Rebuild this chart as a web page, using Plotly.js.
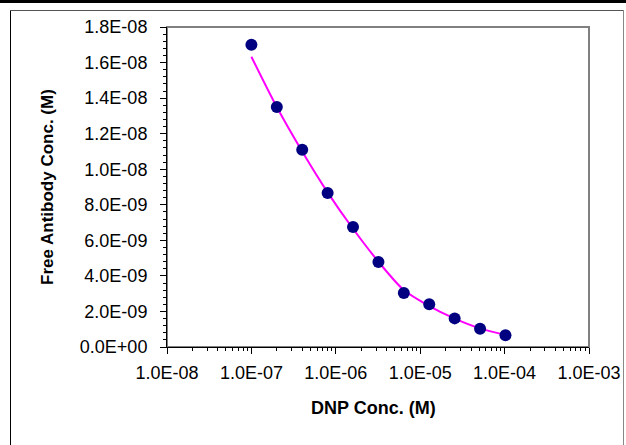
<!DOCTYPE html>
<html>
<head>
<meta charset="utf-8">
<script src="https://cdn.plot.ly/plotly-3.0.1.min.js"></script>
<style>
  html, body { margin: 0; padding: 0; background: #fff; }
  #chart { width: 626px; height: 445px; }
</style>
</head>
<body>
<div id="chart"></div>
<script>
// Data
const dnpConc = [1e-7, 2e-7, 4e-7, 8e-7, 1.6e-6, 3.2e-6, 6.4e-6, 1.28e-5, 2.56e-5, 5.12e-5, 1.024e-4];
const freeAb  = [1.70e-8, 1.35e-8, 1.11e-8, 8.66e-9, 6.75e-9, 4.78e-9, 3.04e-9, 2.40e-9, 1.61e-9, 1.03e-9, 6.6e-10];
const fitAb   = [1.633e-8, 1.35e-8, 1.10e-8, 8.70e-9, 6.65e-9, 4.80e-9, 3.20e-9, 2.30e-9, 1.60e-9, 1.05e-9, 6.8e-10];

const xTickVals = [1e-8, 1e-7, 1e-6, 1e-5, 1e-4, 1e-3];
const xTickText = ['1.0E-08', '1.0E-07', '1.0E-06', '1.0E-05', '1.0E-04', '1.0E-03'];
const yTickVals = [0, 2e-9, 4e-9, 6e-9, 8e-9, 1e-8, 1.2e-8, 1.4e-8, 1.6e-8, 1.8e-8];
const yTickText = ['0.0E+00', '2.0E-09', '4.0E-09', '6.0E-09', '8.0E-09', '1.0E-08', '1.2E-08', '1.4E-08', '1.6E-08', '1.8E-08'];
const xTitle = 'DNP Conc. (M)';
const yTitle = 'Free Antibody Conc. (M)';

const FONT = '"Liberation Sans", Arial, sans-serif';

const traces = [
  {
    x: dnpConc, y: fitAb, type: 'scatter', mode: 'lines',
    line: { color: '#FF00FF', width: 2, shape: 'spline', smoothing: 0.8 },
    hoverinfo: 'skip', showlegend: false
  },
  {
    x: dnpConc, y: freeAb, type: 'scatter', mode: 'markers',
    marker: { color: '#000080', size: 12, symbol: 'circle', line: { width: 0 } },
    showlegend: false
  }
];

// plot area in pixels: x 167..589, y 27..347
const L = 167, R = 37, T = 27, B = 98, W = 626 - L - R, H = 445 - T - B;
const px = v => (v - L) / W;
const py = v => (445 - B - v) / H;

const layout = {
  width: 626, height: 445,
  margin: { l: L, r: R, t: T, b: B, pad: 0 },
  paper_bgcolor: '#ffffff', plot_bgcolor: '#ffffff',
  font: { family: FONT, color: '#000', size: 18 },
  xaxis: {
    type: 'log', range: [-8, -3],
    tickmode: 'array', tickvals: xTickVals, ticktext: xTickText,
    ticks: 'outside', ticklen: 6, tickwidth: 1, tickcolor: '#000',
    ticklabelstandoff: 3,
    minor: { ticks: 'outside', ticklen: 3, tickcolor: '#000', dtick: 'D1', showgrid: false },
    showline: true, linecolor: '#000', linewidth: 1,
    showgrid: false, zeroline: false,
    tickfont: { family: FONT, size: 18, color: '#000' },
    automargin: false
  },
  yaxis: {
    range: [0, 1.8e-8],
    tickmode: 'array', tickvals: yTickVals, ticktext: yTickText,
    ticks: 'outside', ticklen: 6, tickwidth: 1, tickcolor: '#000',
    ticklabelstandoff: 9,
    minor: { ticks: 'outside', ticklen: 3, tickcolor: '#000', dtick: 4e-10, showgrid: false },
    showline: true, linecolor: '#000', linewidth: 1,
    showgrid: false, zeroline: false,
    tickfont: { family: FONT, size: 18, color: '#000' },
    automargin: false
  },
  annotations: [
    { text: xTitle, xref: 'paper', yref: 'paper', x: 0.49, y: py(408),
      xanchor: 'center', yanchor: 'middle', showarrow: false,
      font: { family: FONT, size: 18, weight: 'bold', color: '#000' } },
    { text: yTitle, xref: 'paper', yref: 'paper', x: px(47), y: 0.5, textangle: -90,
      xanchor: 'center', yanchor: 'middle', showarrow: false,
      font: { family: FONT, size: 17, weight: 'bold', color: '#000' } }
  ],
  shapes: [
    // gray plot-area frame (top and right)
    { type: 'rect', xref: 'paper', yref: 'paper', x0: 0, x1: 1, y0: 0, y1: 1,
      line: { color: '#808080', width: 2 }, layer: 'below' },
    // outer chart box
    { type: 'line', xref: 'paper', yref: 'paper', x0: px(10.5), x1: px(10.5), y0: py(10), y1: py(450),
      line: { color: '#000', width: 1 } },
    { type: 'line', xref: 'paper', yref: 'paper', x0: px(10), x1: px(623.5), y0: py(10.5), y1: py(10.5),
      line: { color: '#555', width: 1 } },
    { type: 'line', xref: 'paper', yref: 'paper', x0: px(623.5), x1: px(623.5), y0: py(10), y1: py(450),
      line: { color: '#888', width: 1 } },
    // thick top rule
    { type: 'line', xref: 'paper', yref: 'paper', x0: px(0), x1: px(626), y0: py(1.5), y1: py(1.5),
      line: { color: '#000', width: 3 } }
  ]
};

Plotly.newPlot('chart', traces, layout, { staticPlot: true, displayModeBar: false });
</script>
</body>
</html>
